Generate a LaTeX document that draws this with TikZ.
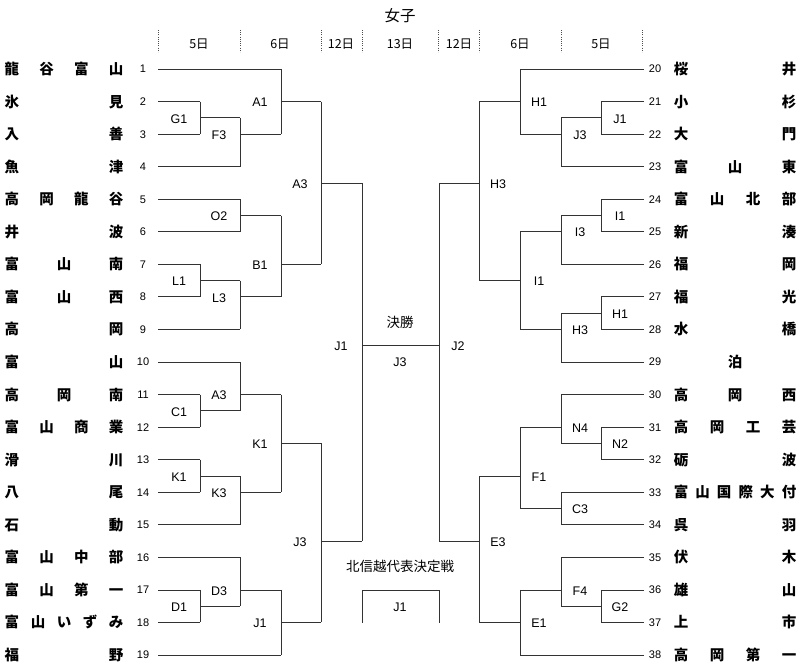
\documentclass[tikz,border=0pt]{standalone}
\usepackage{fontspec}
\setmainfont{Liberation Sans}
\newfontfamily\cjk{Noto Sans CJK JP}
\tikzset{
  br/.style={line width=0.8pt, draw=black!80},
  dl/.style={line width=0.6pt, draw=black!70, dash pattern=on 0.8pt off 1.4pt},
  lab/.style={font=\fontsize{12.5}{12.5}\selectfont, text height=9pt, text depth=0pt, inner sep=0pt},
  num/.style={font=\fontsize{11}{11}\selectfont, text height=7.9pt, text depth=0pt, inner sep=0pt},
  nm/.style={font=\cjk\bfseries\fontsize{14.5}{14.5}\selectfont, text height=10.9pt, text depth=0pt, inner sep=0pt},
  jp/.style={font=\cjk\fontsize{13.5}{13.5}\selectfont, text height=10.1pt, text depth=0pt, inner sep=0pt},
  ttl/.style={font=\cjk\fontsize{15.5}{15.5}\selectfont, text height=11.6pt, text depth=0pt, inner sep=0pt},
  hd/.style={font=\cjk\fontsize{12.5}{12.5}\selectfont, text height=9.2pt, text depth=0pt, inner sep=0pt}
}
% distributed team name: xleft, xright, y, list, id
\newcommand\tname[5]{%
  \foreach \c [count=\k] in {#4} {\xdef\nn{\k}}%
  \ifnum\nn=1
    \node[nm] (nm#5) at ({(#1+#2)/2},#3) {#4};
  \else
    \foreach \c [count=\k from 0] in {#4} {\node[nm] (nm#5-\k) at ({#1+(#2-#1)*\k/(\nn-1)},#3) {\c};}
  \fi}
% left team: index, line end x, name list
\newcommand\teamL[3]{%
  \pgfmathsetmacro\yy{69+(#1-1)*32.556}%
  \draw[br] (158,\yy) -- (#2,\yy);
  \node[num] (numL#1) at (143,\yy) {#1};
  \tname{12}{116}{\yy}{#3}{L#1}}
% right team: index, line end x, name list
\newcommand\teamR[3]{%
  \pgfmathsetmacro\yy{69+(#1-20)*32.556}%
  \draw[br] (644,\yy) -- (#2,\yy);
  \node[num] (numR#1) at (655,\yy) {#1};
  \tname{681}{789}{\yy}{#3}{R#1}}
% match: vertical x, k1, k2, kout, xout, label, id
\newcommand\bmatch[7]{%
  \draw[br] (#1,{69+#2*16.278}) -- (#1,{69+#3*16.278})
            (#1,{69+#4*16.278}) -- (#5,{69+#4*16.278});
  \pgfmathsetmacro\lx{#5>#1 ? #1-21 : #1+19}%
  \node[lab] (m#7) at (\lx,{69.7+#4*16.278}) {#6};}
\begin{document}
\begin{tikzpicture}[x=1pt,y=-1pt]
\useasboundingbox (0,0) rectangle (800,671);
% title and header
\node[ttl] (title) at (400,16) {女子};
\foreach \x [count=\i] in {158,240,321,362,438,479,561,642}
  \draw[dl] (\x,30) -- (\x,52);
\node[hd] (h1) at (199,44) {5日};
\node[hd] (h2) at (280,44) {6日};
\node[hd] (h3) at (341,44) {12日};
\node[hd] (h4) at (400,44) {13日};
\node[hd] (h5) at (459,44) {12日};
\node[hd] (h6) at (520,44) {6日};
\node[hd] (h7) at (601,44) {5日};
% left teams
\teamL{1}{281}{龍,谷,富,山}
\teamL{2}{200}{氷,見}
\teamL{3}{200}{入,善}
\teamL{4}{240}{魚,津}
\teamL{5}{240}{高,岡,龍,谷}
\teamL{6}{240}{井,波}
\teamL{7}{200}{富,山,南}
\teamL{8}{200}{富,山,西}
\teamL{9}{240}{高,岡}
\teamL{10}{240}{富,山}
\teamL{11}{200}{高,岡,南}
\teamL{12}{200}{富,山,商,業}
\teamL{13}{200}{滑,川}
\teamL{14}{200}{八,尾}
\teamL{15}{240}{石,動}
\teamL{16}{240}{富,山,中,部}
\teamL{17}{200}{富,山,第,一}
\teamL{18}{200}{富,山,い,ず,み}
\teamL{19}{281}{福,野}
% right teams
\teamR{20}{520}{桜,井}
\teamR{21}{601}{小,杉}
\teamR{22}{601}{大,門}
\teamR{23}{561}{富,山,東}
\teamR{24}{601}{富,山,北,部}
\teamR{25}{601}{新,湊}
\teamR{26}{561}{福,岡}
\teamR{27}{601}{福,光}
\teamR{28}{601}{水,橋}
\teamR{29}{561}{泊}
\teamR{30}{561}{高,岡,西}
\teamR{31}{601}{高,岡,工,芸}
\teamR{32}{601}{砺,波}
\teamR{33}{561}{富,山,国,際,大,付}
\teamR{34}{561}{呉,羽}
\teamR{35}{561}{伏,木}
\teamR{36}{601}{雄,山}
\teamR{37}{601}{上,市}
\teamR{38}{520}{高,岡,第,一}
% left matches
\bmatch{200}{2}{4}{3}{240}{G1}{LG1}
\bmatch{240}{3}{6}{4}{281}{F3}{LF3}
\bmatch{281}{0}{4}{2}{321}{A1}{LA1}
\bmatch{240}{8}{10}{9}{281}{O2}{LO2}
\bmatch{200}{12}{14}{13}{240}{L1}{LL1}
\bmatch{240}{13}{16}{14}{281}{L3}{LL3}
\bmatch{281}{9}{14}{12}{321}{B1}{LB1}
\bmatch{321}{2}{12}{7}{362}{A3}{LA3a}
\bmatch{200}{20}{22}{21}{240}{C1}{LC1}
\bmatch{240}{18}{21}{20}{281}{A3}{LA3b}
\bmatch{200}{24}{26}{25}{240}{K1}{LK1a}
\bmatch{240}{25}{28}{26}{281}{K3}{LK3}
\bmatch{281}{20}{26}{23}{321}{K1}{LK1b}
\bmatch{200}{32}{34}{33}{240}{D1}{LD1}
\bmatch{240}{30}{33}{32}{281}{D3}{LD3}
\bmatch{281}{32}{36}{34}{321}{J1}{LJ1a}
\bmatch{321}{23}{34}{29}{362}{J3}{LJ3}
\bmatch{362}{7}{29}{17}{400}{J1}{LJ1b}
% right matches
\bmatch{601}{2}{4}{3}{561}{J1}{RJ1}
\bmatch{561}{3}{6}{4}{520}{J3}{RJ3}
\bmatch{520}{0}{4}{2}{479}{H1}{RH1a}
\bmatch{601}{8}{10}{9}{561}{I1}{RI1a}
\bmatch{561}{9}{12}{10}{520}{I3}{RI3}
\bmatch{601}{14}{16}{15}{561}{H1}{RH1b}
\bmatch{561}{15}{18}{16}{520}{H3}{RH3a}
\bmatch{520}{10}{16}{13}{479}{I1}{RI1b}
\bmatch{479}{2}{13}{7}{439}{H3}{RH3b}
\bmatch{601}{22}{24}{23}{561}{N2}{RN2}
\bmatch{561}{20}{23}{22}{520}{N4}{RN4}
\bmatch{561}{26}{28}{27}{520}{C3}{RC3}
\bmatch{520}{22}{27}{25}{479}{F1}{RF1}
\bmatch{601}{32}{34}{33}{561}{G2}{RG2}
\bmatch{561}{30}{33}{32}{520}{F4}{RF4}
\bmatch{520}{32}{36}{34}{479}{E1}{RE1}
\bmatch{479}{25}{34}{29}{439}{E3}{RE3}
\bmatch{439}{7}{29}{17}{400}{J2}{RJ2}
% final
\node[jp] (final) at (400,322.5) {決勝};
\node[lab] (finalm) at (400,362) {J3};
% Hokushinetsu playoff
\node[jp] (hse) at (400,566) {北信越代表決定戦};
\draw[br] (362,622.5) -- (362,589.9) -- (439,589.9) -- (439,622.5);
\node[lab] (hsem) at (400,607) {J1};
\end{tikzpicture}
\end{document}
